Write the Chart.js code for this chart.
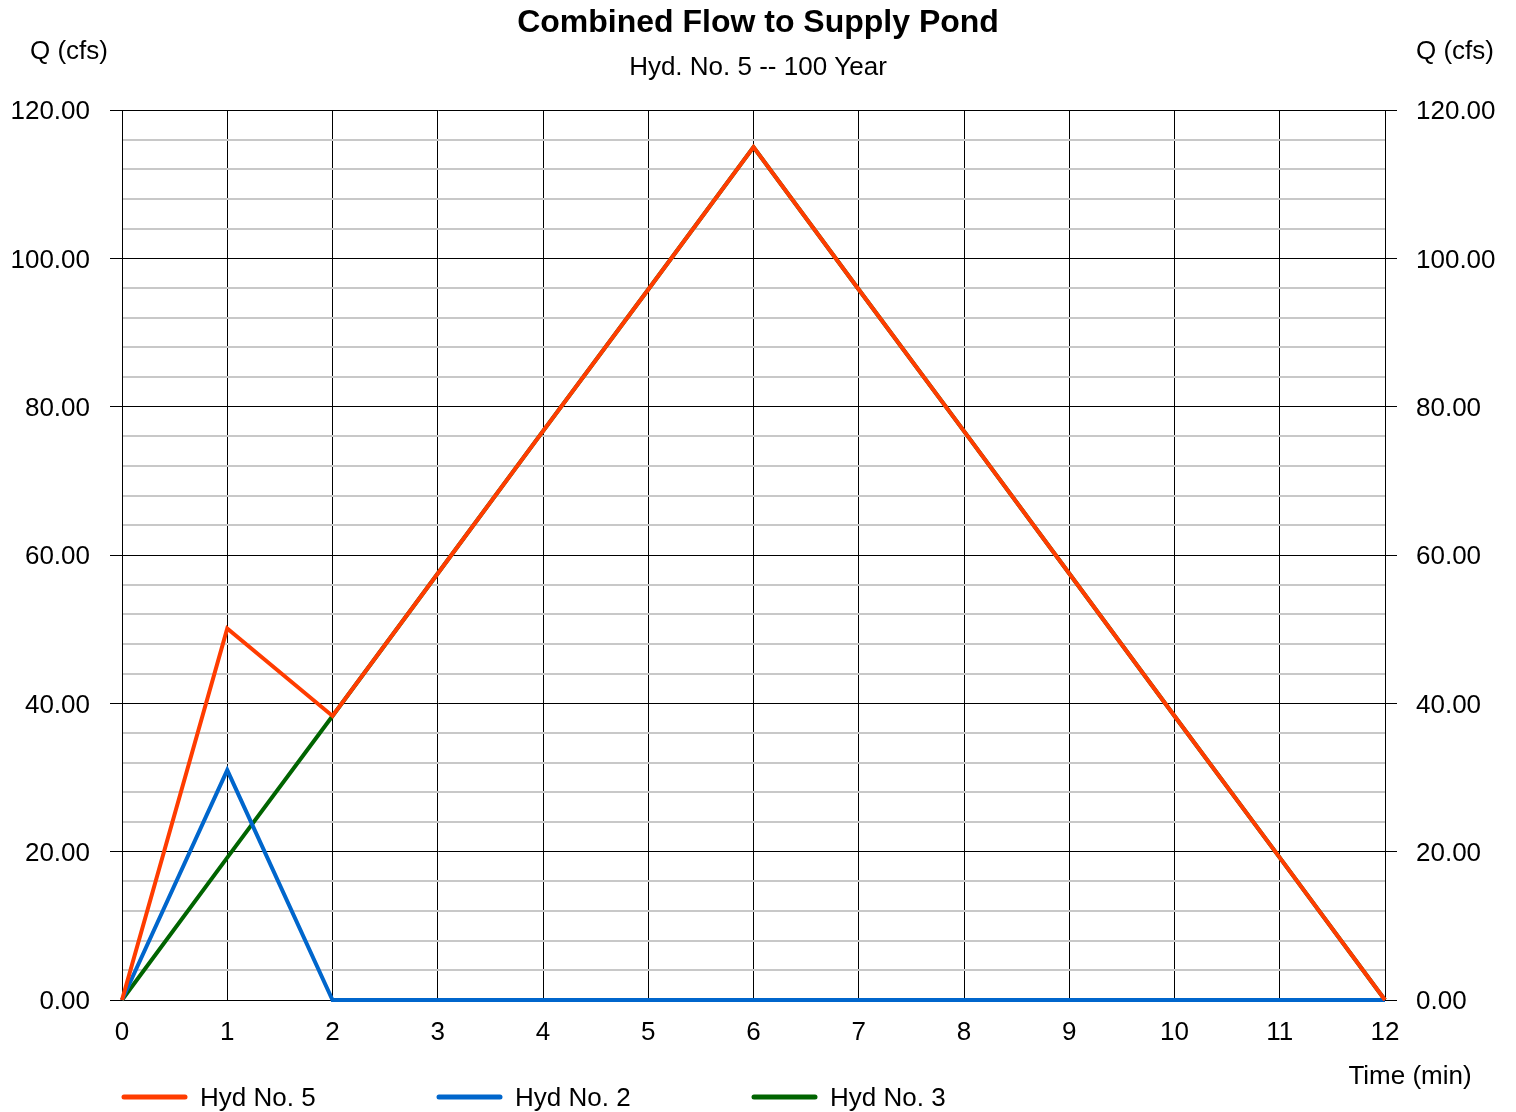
<!DOCTYPE html>
<html>
<head>
<meta charset="utf-8">
<script src="https://cdn.jsdelivr.net/npm/chart.js@4/dist/chart.umd.min.js"></script>
<style>
  html, body { margin: 0; padding: 0; background: #fff; }
  #wrap { width: 1516px; height: 1112px; }
</style>
</head>
<body>
<div id="wrap"><canvas id="flowChart"></canvas></div>
<script>
// time in minutes, flow in cfs
const times = [0, 1, 2, 3, 4, 5, 6, 7, 8, 9, 10, 11, 12];
const hyd5 = [0, 50.1, 38.3, 57.5, 76.7, 95.8, 115.0, 95.8, 76.7, 57.5, 38.3, 19.2, 0];
const hyd2 = [0, 31.0, 0, 0, 0, 0, 0, 0, 0, 0, 0, 0, 0];
const hyd3 = [0, 19.2, 38.3, 57.5, 76.7, 95.8, 115.0, 95.8, 76.7, 57.5, 38.3, 19.2, 0];
const seriesNames = ['Hyd No. 5', 'Hyd No. 2', 'Hyd No. 3'];
const seriesColors = ['#ff3c00', '#0066cc', '#006400'];

const FONT = '"Liberation Sans", Arial, sans-serif';
Chart.defaults.font.family = FONT;
Chart.defaults.color = '#000';

const toPoints = vals => times.map((t, i) => ({ x: t, y: vals[i] }));

const isMajor = v => v % 20 === 0;

// axis captions + legend drawn under the plot
const extras = {
  id: 'extras',
  afterDraw(chart) {
    const { ctx, chartArea } = chart;
    ctx.save();
    ctx.font = '26px ' + FONT;
    ctx.fillStyle = '#000';
    ctx.textBaseline = 'middle';
    ctx.textAlign = 'center';
    ctx.fillText('Q (cfs)', 69, 52);
    ctx.fillText('Q (cfs)', 1455, 52);
    ctx.fillText('Time (min)', 1410, 1077);

    ctx.textAlign = 'left';
    chart.data.datasets.forEach((ds, i) => {
      const x = chartArea.left + i * 315;
      const y = 1097;
      ctx.strokeStyle = ds.borderColor;
      ctx.lineWidth = 5;
      ctx.lineCap = 'round';
      ctx.beginPath();
      ctx.moveTo(x + 2, y);
      ctx.lineTo(x + 63, y);
      ctx.stroke();
      ctx.fillText(ds.label, x + 78, y + 2);
    });
    ctx.restore();
  }
};

const ctx = document.getElementById('flowChart').getContext('2d');

new Chart(ctx, {
  type: 'line',
  data: {
    datasets: [hyd5, hyd2, hyd3].map((vals, i) => ({
      label: seriesNames[i],
      data: toPoints(vals),
      borderColor: seriesColors[i],
      backgroundColor: seriesColors[i],
      borderWidth: 4,
      borderJoinStyle: 'miter',
      pointRadius: 0,
      tension: 0,
      fill: false,
      clip: false
    }))
  },
  options: {
    responsive: true,
    maintainAspectRatio: false,
    animation: false,
    layout: { padding: 0 },
    plugins: {
      legend: { display: false },
      tooltip: { enabled: false },
      title: {
        display: true,
        text: 'Combined Flow to Supply Pond',
        font: { size: 32, weight: 'bold' },
        padding: { top: 4, bottom: 0 }
      },
      subtitle: {
        display: true,
        text: 'Hyd. No. 5 -- 100 Year',
        font: { size: 26 },
        padding: { top: 10, bottom: 26.4 }
      }
    },
    scales: {
      x: {
        type: 'linear',
        min: 0,
        max: 12,
        ticks: { stepSize: 1, padding: 17, font: { size: 26 } },
        grid: { color: '#000', lineWidth: 1, drawTicks: false },
        border: { color: '#000' },
        afterFit: s => { s.height = 112; }
      },
      y: {
        position: 'left',
        min: 0,
        max: 120,
        ticks: {
          stepSize: 4,
          autoSkip: false,
          padding: 20,
          labelOffset: 2,
          font: { size: 26 },
          callback: v => isMajor(v) ? v.toFixed(2) : ''
        },
        grid: {
          color: c => isMajor(c.tick.value) ? '#000' : '#c8c8c8',
          lineWidth: c => isMajor(c.tick.value) ? 1 : 2,
          tickColor: c => isMajor(c.tick.value) ? '#000' : 'rgba(0,0,0,0)',
          tickWidth: 1,
          tickLength: 12
        },
        border: { color: '#000' },
        afterFit: s => { s.width = 122; }
      },
      y2: {
        position: 'right',
        min: 0,
        max: 120,
        ticks: {
          stepSize: 20,
          padding: 19,
          labelOffset: 2,
          font: { size: 26 },
          callback: v => v.toFixed(2)
        },
        grid: { drawOnChartArea: false, color: '#000', tickLength: 12 },
        border: { color: '#000' },
        afterFit: s => { s.width = 131; }
      }
    }
  },
  plugins: [extras]
});
</script>
</body>
</html>
